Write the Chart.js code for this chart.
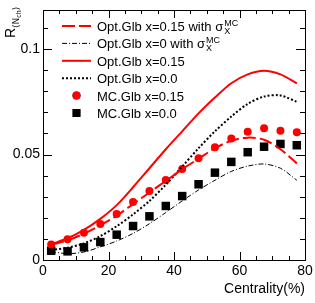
<!DOCTYPE html>
<html>
<head>
<meta charset="utf-8">
<script src="https://cdn.jsdelivr.net/npm/chart.js@4.4.1/dist/chart.umd.min.js"></script>
<style>
  html, body { margin: 0; padding: 0; background: #fff; }
</style>
</head>
<body>
<canvas id="chart" width="315" height="303"></canvas>
<script>
// centrality bin centres (%)
const centrality = [2.5, 7.5, 12.5, 17.5, 22.5, 27.5, 32.5, 37.5, 42.5, 47.5, 52.5, 57.5, 62.5, 67.5, 72.5, 77.5];

// Opt.Glb curves
const optSigma015 = [0.0072, 0.0093, 0.0125, 0.0165, 0.021, 0.0265, 0.032, 0.0375, 0.043, 0.048, 0.053, 0.0565, 0.058, 0.057, 0.0525, 0.0458];
const optSigma0 = [0.004, 0.003, 0.0038, 0.0062, 0.009, 0.0126, 0.0172, 0.0225, 0.028, 0.0332, 0.0378, 0.042, 0.0445, 0.0455, 0.0435, 0.0378];
const opt015 = [0.0075, 0.0103, 0.0143, 0.0195, 0.026, 0.0345, 0.0435, 0.0525, 0.061, 0.0695, 0.077, 0.0838, 0.088, 0.0897, 0.088, 0.0837];
const opt0 = [0.0048, 0.0058, 0.0079, 0.0113, 0.016, 0.0216, 0.028, 0.0357, 0.0443, 0.053, 0.061, 0.068, 0.074, 0.0775, 0.078, 0.075];

// MC.Glb points
const mc015 = [0.0074, 0.0098, 0.0129, 0.0171, 0.0218, 0.0275, 0.0327, 0.0379, 0.0431, 0.0482, 0.0534, 0.0576, 0.0608, 0.0625, 0.0613, 0.0606];
const mc0 = [0.0044, 0.0041, 0.006, 0.0085, 0.012, 0.0161, 0.0207, 0.0256, 0.0303, 0.0359, 0.0414, 0.0465, 0.0511, 0.0537, 0.055, 0.0544];

const xTicks = [0, 20, 40, 60, 80];
const yTicks = [0, 0.05, 0.1];
const yTickLabels = ["0", "0.05", "0.1"];

const RED = "#ff0000";
const FONT = "'Liberation Sans', Arial, Helvetica, sans-serif";

const toPoints = (ys) => centrality.map((x, i) => ({ x: x, y: ys[i] }));

const lineSet = (label, ys, color, width, dash) => ({
  label: label,
  data: toPoints(ys),
  borderColor: color,
  backgroundColor: color,
  borderWidth: width,
  borderDash: dash,
  pointRadius: 0,
  tension: 0.3,
  fill: false,
});

const pointSet = (label, ys, color, style, radius) => ({
  label: label,
  data: toPoints(ys),
  showLine: false,
  borderColor: color,
  backgroundColor: color,
  pointStyle: style,
  pointRadius: radius,
  pointBorderWidth: 0,
});

// legend entries, in the order of the reference
const legendItems = [
  { kind: "line", color: RED, width: 2, dash: [13, 4], text: "Opt.Glb x=0.15 with σ", sigma: true },
  { kind: "line", color: "#000", width: 1, dash: [5, 2, 1, 2], text: "Opt.Glb x=0 with σ", sigma: true },
  { kind: "line", color: RED, width: 2, dash: [], text: "Opt.Glb x=0.15" },
  { kind: "line", color: "#000", width: 2, dash: [2, 2], text: "Opt.Glb x=0.0" },
  { kind: "point", color: RED, style: "circle", text: "MC.Glb x=0.15" },
  { kind: "point", color: "#000", style: "rect", text: "MC.Glb x=0.0" },
];

const framePlugin = {
  id: "frame",
  afterDraw(chart) {
    const { ctx, chartArea: a, scales } = chart;
    const xs = scales.x, ys = scales.y;
    ctx.save();
    ctx.strokeStyle = "#000";
    ctx.lineWidth = 1;
    ctx.strokeRect(Math.round(a.left) + 0.5, Math.round(a.top) + 0.5,
      Math.round(a.right - a.left), Math.round(a.bottom - a.top));

    // ticks inside the frame on all sides
    ctx.beginPath();
    for (let v = 0; v <= 80; v += 5) {
      const px = Math.round(xs.getPixelForValue(v)) + 0.5;
      const len = v % 20 === 0 ? 8 : 4;
      ctx.moveTo(px, a.bottom); ctx.lineTo(px, a.bottom - len);
      ctx.moveTo(px, a.top); ctx.lineTo(px, a.top + len);
    }
    for (let k = 0; k <= 11; k++) {
      const v = k / 100;
      const py = Math.round(ys.getPixelForValue(v)) + 0.5;
      const len = k % 5 === 0 ? 9 : 5;
      ctx.moveTo(a.left, py); ctx.lineTo(a.left + len, py);
      ctx.moveTo(a.right, py); ctx.lineTo(a.right - len, py);
    }
    ctx.stroke();

    // tick labels
    ctx.fillStyle = "#000";
    ctx.font = "14px " + FONT;
    ctx.textAlign = "center";
    ctx.textBaseline = "alphabetic";
    xTicks.forEach((v) => {
      ctx.fillText(String(v), xs.getPixelForValue(v), a.bottom + 15);
    });
    ctx.textAlign = "right";
    ctx.textBaseline = "middle";
    yTicks.forEach((v, i) => {
      ctx.fillText(yTickLabels[i], a.left - 3, ys.getPixelForValue(v));
    });

    // axis titles
    ctx.textAlign = "right";
    ctx.textBaseline = "alphabetic";
    ctx.fillText("Centrality(%)", a.right, a.bottom + 33);

    ctx.save();
    ctx.translate(15, 38);
    ctx.rotate(-Math.PI / 2);
    ctx.textAlign = "left";
    ctx.font = "14px " + FONT;
    ctx.fillText("R", 0, 0);
    let x = ctx.measureText("R").width;
    ctx.font = "9px 'DejaVu Sans', " + FONT;
    ctx.fillText("⟨N", x, 4);
    x += ctx.measureText("⟨N").width;
    ctx.font = "7px " + FONT;
    ctx.fillText("ch", x, 6);
    x += ctx.measureText("ch").width;
    ctx.font = "9px 'DejaVu Sans', " + FONT;
    ctx.fillText("⟩", x, 4);
    ctx.restore();

    // legend
    const sampleL = 62, sampleR = 91, textX = 97;
    legendItems.forEach((item, i) => {
      const cy = 26 + i * 17.4;
      if (item.kind === "line") {
        ctx.save();
        ctx.strokeStyle = item.color;
        ctx.lineWidth = item.width;
        ctx.setLineDash(item.dash);
        ctx.beginPath();
        ctx.moveTo(sampleL, cy); ctx.lineTo(sampleR, cy);
        ctx.stroke();
        ctx.restore();
      } else {
        Chart.helpers.drawPoint(ctx, {
          pointStyle: item.style,
          radius: item.style === "rect" ? 5.5 : 4,
          borderWidth: 0,
          rotation: 0,
        }, (sampleL + sampleR) / 2, cy);
        ctx.fillStyle = item.color;
        ctx.fill();
      }
      ctx.fillStyle = "#000";
      ctx.textAlign = "left";
      ctx.textBaseline = "alphabetic";
      ctx.font = "13px " + FONT;
      ctx.fillText(item.text, textX, cy + 5);
      if (item.sigma) {
        const w = ctx.measureText(item.text).width;
        ctx.font = "9px " + FONT;
        ctx.fillText("MC", textX + w + 1, cy);
        ctx.fillText("X", textX + w + 1, cy + 8);
        ctx.font = "13px " + FONT;
      }
    });
    ctx.restore();
  },
};

new Chart(document.getElementById("chart"), {
  type: "line",
  data: {
    datasets: [
      lineSet("Opt.Glb x=0.15 with sigma", optSigma015, RED, 2, [13, 4]),
      lineSet("Opt.Glb x=0 with sigma", optSigma0, "#000", 1, [5, 2, 1, 2]),
      lineSet("Opt.Glb x=0.15", opt015, RED, 2, []),
      lineSet("Opt.Glb x=0.0", opt0, "#000", 2, [2, 2]),
      pointSet("MC.Glb x=0.15", mc015, RED, "circle", 4),
      pointSet("MC.Glb x=0.0", mc0, "#000", "rect", 6),
    ],
  },
  options: {
    responsive: false,
    animation: false,
    layout: { padding: { left: 43, right: 10, top: 10, bottom: 43 } },
    scales: {
      x: { type: "linear", min: 0, max: 80, display: false },
      y: { type: "linear", min: 0, max: 0.1185, display: false },
    },
    plugins: {
      legend: { display: false },
      tooltip: { enabled: false },
    },
  },
  plugins: [framePlugin],
});
</script>
</body>
</html>
